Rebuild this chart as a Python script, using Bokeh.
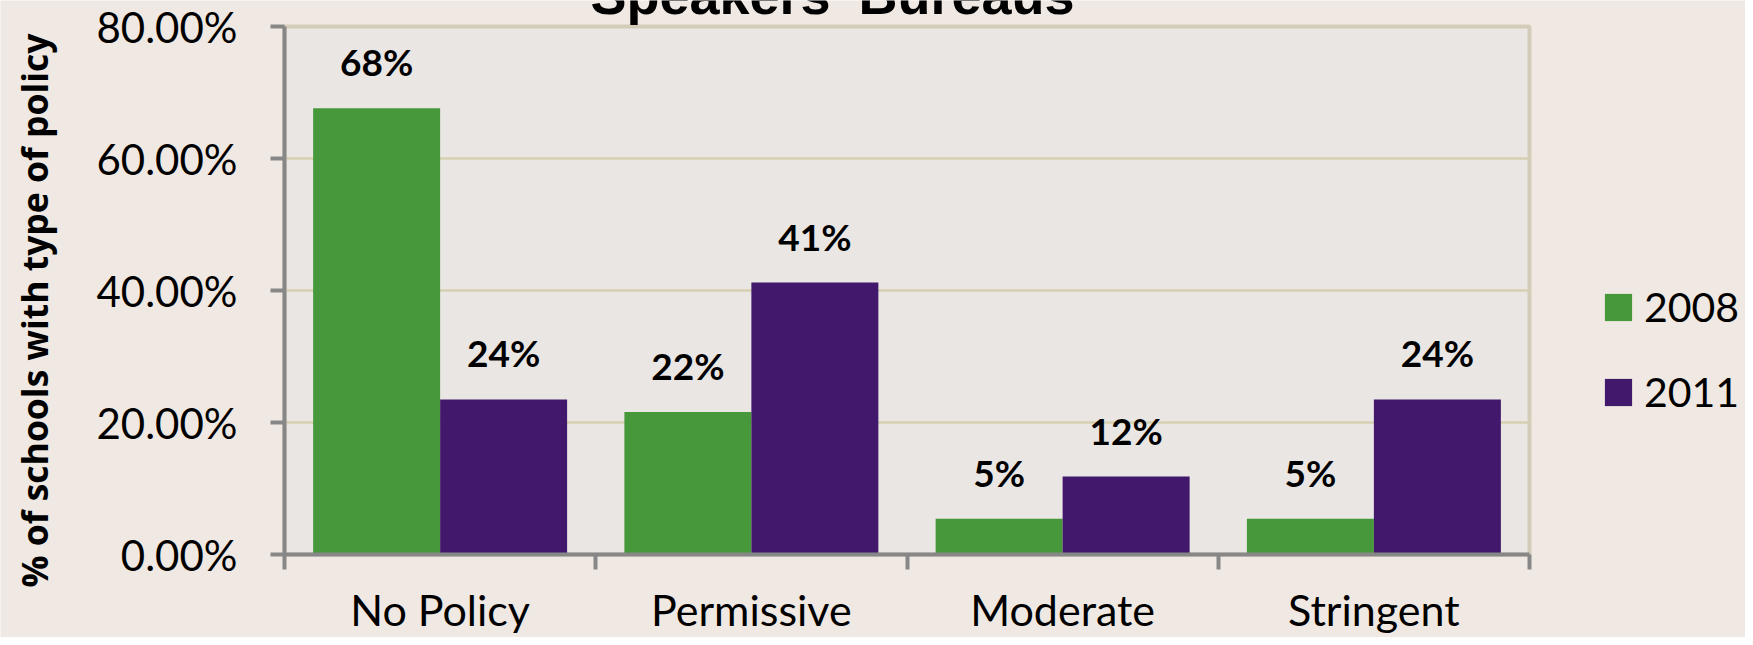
import math
from bokeh.plotting import figure
from bokeh.models import (ColumnDataSource, LabelSet, Label, FixedTicker,
                          PrintfTickFormatter, Range1d, BoxAnnotation)
from bokeh.core.properties import value
from bokeh.embed import file_html
from bokeh.resources import INLINE

# ---- data ----
categories = ["No Policy", "Permissive", "Moderate", "Stringent"]
series_names = ["2008", "2011"]
values_2008 = [67.6, 21.6, 5.4, 5.4]
values_2011 = [23.5, 41.2, 11.8, 23.5]
y_ticks = [0, 20, 40, 60, 80]
grid_ticks = [20, 40, 60]
title_text = "Speakers' Bureaus"
y_title = "% of schools with type of policy"

# ---- style / layout ----
GREEN = "#46983A"
PURPLE = "#41186B"
PAGE_BG = "#F0E8E2"
PLOT_BG = "#EAE6E4"
GRID = "#D6D0B0"
OLIVE = "#998F5A"
AXIS_GRAY = "#878787"

W, H = 1745, 637
PL, PR, PT, PB = 284, 1529, 26, 554      # plot-area edges in pixels
n = len(categories)
y_max = y_ticks[-1]
ux = (PR - PL) / n
uy = (PB - PT) / y_max

centers = [i + 0.5 for i in range(n)]
bar_w = 0.408

def pct_label(v):
    return f"{int(v + 0.5)}%"

src08 = ColumnDataSource(dict(x=[c - bar_w / 2 for c in centers], top=values_2008,
                              label=[pct_label(v) for v in values_2008]))
src11 = ColumnDataSource(dict(x=[c + bar_w / 2 for c in centers], top=values_2011,
                              label=[pct_label(v) for v in values_2011]))

p = figure(frame_width=W, frame_height=H, min_border=0,
           x_range=Range1d(-PL / ux, n + (W - PR) / ux),
           y_range=Range1d(-(H - PB) / uy, PB / uy),
           output_backend="svg", toolbar_location=None,
           background_fill_color=PAGE_BG, border_fill_color=PAGE_BG,
           outline_line_color=None)

# plot area background with olive border (left/bottom hidden under axes)
p.add_layout(BoxAnnotation(left=0, right=n, bottom=0, top=y_max,
                           fill_color=PLOT_BG, fill_alpha=1,
                           line_color=OLIVE, line_width=4, level="image"))

# gridlines limited to plot area
p.xgrid.visible = False
p.ygrid.visible = False
p.segment(x0=[0] * len(grid_ticks), x1=[n] * len(grid_ticks), y0=grid_ticks, y1=grid_ticks,
          line_color=GRID, line_width=2.5)

r08 = p.vbar(x="x", top="top", width=bar_w, source=src08, color=GREEN, line_color=None,
             legend_label=series_names[0])
r11 = p.vbar(x="x", top="top", width=bar_w, source=src11, color=PURPLE, line_color=None,
             legend_label=series_names[1])

# y axis (drawn at x = 0)
ya = p.yaxis[0]
ya.fixed_location = 0
ya.bounds = (0, y_max)
ya.ticker = FixedTicker(ticks=y_ticks)
ya.formatter = PrintfTickFormatter(format="%.2f%%")
ya.axis_line_color = AXIS_GRAY
ya.axis_line_width = 4
ya.major_tick_line_color = AXIS_GRAY
ya.major_tick_line_width = 4
ya.major_tick_out = 14
ya.major_tick_in = 0
ya.minor_tick_line_color = None
ya.major_label_text_font = "Lato"
ya.major_label_text_font_size = "42px"
ya.major_label_text_color = "black"
ya.major_label_standoff = 33

# x axis (drawn at y = 0)
xa = p.xaxis[0]
xa.fixed_location = 0
xa.bounds = (0, n)
xa.ticker = FixedTicker(ticks=centers, minor_ticks=list(range(n + 1)))
xa.major_label_overrides = {c: name for c, name in zip(centers, categories)}
xa.axis_line_color = AXIS_GRAY
xa.axis_line_width = 4
xa.major_tick_line_color = None
xa.major_tick_out = 0
xa.major_tick_in = 0
xa.minor_tick_line_color = AXIS_GRAY
xa.minor_tick_line_width = 4
xa.minor_tick_out = 15
xa.minor_tick_in = 0
xa.major_label_text_font = "Lato"
xa.major_label_text_font_size = "43px"
xa.major_label_text_color = "black"
xa.major_label_standoff = 14

# data labels
for src in (src08, src11):
    p.add_layout(LabelSet(x="x", y="top", text="label", source=src,
                          text_align="center", text_baseline="alphabetic", y_offset=32,
                          text_font=value("Lato"), text_font_style=value("bold"),
                          text_font_size=value("37px"), text_color="black"))

# y axis title
p.add_layout(Label(x=(33 - PL) / ux, y=(PB - 310) / uy, text=y_title, angle=math.pi / 2,
                   text_align="center", text_baseline="middle",
                   text_font="Open Sans", text_font_style="bold",
                   text_font_size="35.5px", text_color="black"))

# chart title (top mostly cut off, as in reference)
p.add_layout(Label(x=(832 - PL) / ux, y=(PB + 6) / uy, text=title_text,
                   text_align="center", text_baseline="alphabetic",
                   text_font="Liberation Sans", text_font_style="bold",
                   text_font_size="54px", text_color="black"))

# legend
lg = p.legend[0]
lg.location = (1601, 221)
lg.background_fill_alpha = 0
lg.border_line_color = None
lg.padding = 0
lg.margin = 0
lg.glyph_width = 34
lg.glyph_height = 34
lg.label_height = 34
lg.label_standoff = 9
lg.spacing = 36
lg.label_text_font = "Lato"
lg.label_text_font_size = "41px"
lg.label_text_color = "black"

open("out.html", "w").write(file_html(p, INLINE))
